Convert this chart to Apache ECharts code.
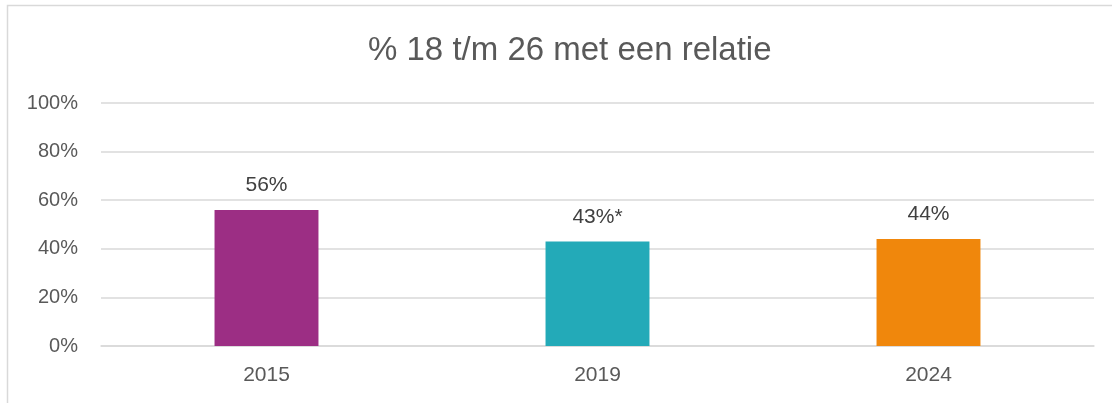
<!DOCTYPE html>
<html>
<head>
<meta charset="utf-8">
<script src="https://cdn.jsdelivr.net/npm/echarts@6/dist/echarts.min.js"></script>
<style>
  html, body { margin: 0; padding: 0; background: #fff; }
  #chart { width: 1112px; height: 403px; }
</style>
</head>
<body>
<div id="chart"></div>
<script>
// data
const categories = ['2015', '2019', '2024']
const values = [56, 43, 44]
const valueLabels = ['56%', '43%*', '44%']
const barColors = ['#9C2E84', '#23AAB8', '#F0870C']

const chart = echarts.init(document.getElementById('chart'))

const option = {
  animation: false,
  textStyle: { fontFamily: 'Liberation Sans, Arial, sans-serif' },
  title: {
    text: '% 18 t/m 26 met een relatie',
    left: 363,
    top: 29,
    textStyle: { fontSize: 33, fontWeight: 'normal', color: '#595959' }
  },
  graphic: [{
    type: 'rect',
    shape: { x: 7.5, y: 5.5, width: 1200, height: 500 },
    style: { fill: 'none', stroke: '#d9d9d9', lineWidth: 1.5 },
    silent: true
  }],
  grid: { left: 101, right: 18, top: 103, bottom: 57 },
  xAxis: {
    type: 'category',
    data: categories,
    axisLine: { show: true, lineStyle: { color: '#d9d9d9', width: 1.5 } },
    axisTick: { show: false },
    axisLabel: { color: '#595959', fontSize: 21, margin: 19 }
  },
  yAxis: {
    type: 'value',
    min: 0,
    max: 100,
    interval: 20,
    axisLine: { show: false },
    axisTick: { show: false },
    axisLabel: { color: '#595959', fontSize: 20, margin: 23, formatter: '{value}%' },
    splitLine: { lineStyle: { color: '#d9d9d9', width: 1.5 } }
  },
  series: [{
    type: 'bar',
    barWidth: '31.4%',
    data: values.map((v, i) => ({ value: v, itemStyle: { color: barColors[i] } })),
    label: {
      show: true,
      position: 'top',
      distance: 14,
      color: '#404040',
      fontSize: 21,
      formatter: p => valueLabels[p.dataIndex]
    }
  }]
}

chart.setOption(option)
</script>
</body>
</html>
